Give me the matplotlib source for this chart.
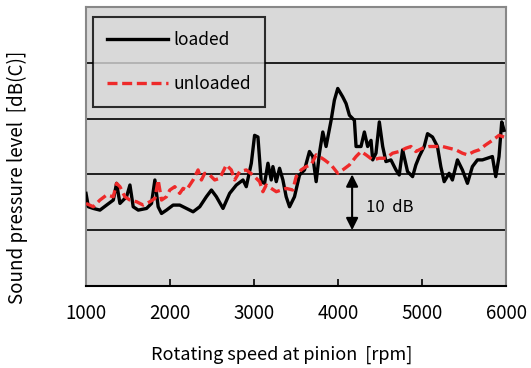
import matplotlib
matplotlib.use("Agg")
import matplotlib.pyplot as plt

# Data
loaded_rpm = [1000, 1028, 1087, 1166, 1245, 1325, 1364, 1404, 1483, 1523, 1562, 1622, 1721, 1780, 1820,
              1859, 1899, 1958, 2037, 2116, 2196, 2275, 2354, 2433, 2493, 2552, 2631, 2710, 2790, 2869,
              2908, 2968, 3007, 3047, 3086, 3126, 3166, 3205, 3225, 3265, 3304, 3344, 3383, 3423, 3482,
              3542, 3601, 3660, 3700, 3740, 3779, 3819, 3858, 3918, 3957, 3997, 4056, 4096, 4136, 4195,
              4215, 4274, 4314, 4353, 4393, 4413, 4452, 4492, 4532, 4571, 4630, 4690, 4729, 4769, 4828,
              4888, 4927, 4967, 5026, 5066, 5125, 5184, 5224, 5264, 5323, 5362, 5422, 5481, 5541, 5600,
              5660, 5719, 5779, 5838, 5878, 5917, 5949, 5977]
loaded_db = [16.6, 14.2, 13.9, 13.6, 14.5, 15.4, 18.4, 14.8, 16.0, 18.1, 14.2, 13.6, 13.9, 14.8, 19.0,
             14.2, 13.0, 13.6, 14.5, 14.5, 13.9, 13.3, 14.2, 16.0, 17.2, 16.0, 13.9, 16.6, 18.1, 19.0,
             17.8, 22.0, 27.0, 26.7, 18.7, 18.4, 22.0, 19.0, 21.4, 18.7, 21.1, 19.0, 16.0, 14.2, 16.0,
             19.9, 20.8, 24.1, 23.2, 18.7, 23.8, 27.6, 25.0, 29.7, 33.3, 35.4, 33.9, 32.7, 30.6, 29.7,
             25.0, 25.0, 27.6, 25.0, 26.1, 22.6, 23.8, 29.4, 25.0, 22.3, 22.6, 20.8, 19.9, 24.4, 20.5,
             19.6, 21.7, 23.2, 25.0, 27.3, 26.7, 25.0, 21.4, 18.7, 20.2, 19.0, 22.6, 20.8, 18.4, 21.4,
             22.6, 22.6, 22.9, 23.2, 19.6, 23.2, 29.4, 27.9]

unloaded_rpm = [1000, 1087, 1166, 1245, 1325, 1364, 1404, 1463, 1523, 1602, 1681, 1760, 1820, 1859, 1899,
                1958, 1998, 2057, 2116, 2156, 2196, 2275, 2334, 2374, 2413, 2473, 2532, 2592, 2671, 2730,
                2770, 2829, 2908, 2987, 3067, 3106, 3146, 3205, 3265, 3324, 3383, 3462, 3502, 3561, 3621,
                3680, 3740, 3779, 3839, 3918, 3997, 4056, 4136, 4215, 4274, 4334, 4413, 4492, 4571, 4650,
                4729, 4809, 4868, 4927, 5006, 5086, 5165, 5244, 5323, 5403, 5481, 5541, 5620, 5680, 5759,
                5838, 5917, 5977]
unloaded_db = [14.8, 14.2, 15.4, 16.3, 16.0, 18.4, 17.8, 16.0, 15.4, 15.1, 14.5, 15.1, 15.7, 19.0, 15.4,
               16.0, 17.2, 17.8, 16.6, 17.5, 17.2, 19.0, 20.8, 19.0, 20.2, 19.9, 19.0, 19.3, 21.7, 20.8,
               19.0, 20.5, 20.8, 19.9, 18.7, 16.9, 18.1, 17.5, 16.9, 17.2, 17.5, 17.2, 19.6, 20.8, 21.4,
               21.7, 23.5, 23.2, 22.6, 21.7, 20.2, 20.8, 21.7, 23.2, 24.1, 23.5, 22.6, 22.9, 22.9, 23.8,
               24.1, 24.7, 25.0, 24.1, 24.7, 25.0, 25.0, 25.0, 24.7, 24.4, 23.8, 23.5, 24.1, 24.4, 25.3,
               26.1, 27.0, 26.7]

x_ticks = [1000, 2000, 3000, 4000, 5000, 6000]
grid_levels = [10, 20, 30, 40]
arrow_rpm = 4168
arrow_from, arrow_to = 20, 10

plt.rcParams['font.family'] = ['Noto Sans CJK JP', 'DejaVu Sans']

W, H = 531, 368
fig = plt.figure(figsize=(W / 100, H / 100), dpi=100)
ax = fig.add_axes([86 / W, (H - 286) / H, (506 - 86) / W, (286 - 7) / H])
ax.set_facecolor('#d9d9d9')

for g in grid_levels:
    ax.axhline(g, color='black', lw=1.2, zorder=1)

l1, = ax.plot(loaded_rpm, loaded_db, color='black', lw=2.4, zorder=3, label='loaded')
l2, = ax.plot(unloaded_rpm, unloaded_db, color='#ee2a2a', lw=2.4, ls=(0, (3, 1.4)), zorder=4, label='unloaded')

ax.set_xlim(1000, 6000)
ax.set_ylim(0, 50)
ax.set_xticks(x_ticks)
ax.set_yticks([])
ax.tick_params(axis='x', direction='in', length=5, width=1.2, labelsize=13.5, pad=12)
for s in ['top', 'right', 'left']:
    ax.spines[s].set_color('#888888')
    ax.spines[s].set_linewidth(1.5)
ax.spines['bottom'].set_color('black')
ax.spines['bottom'].set_linewidth(1.5)

ax.annotate('', xy=(arrow_rpm, arrow_to), xytext=(arrow_rpm, arrow_from),
            arrowprops=dict(arrowstyle='<|-|>', color='black', lw=1.5,
                            mutation_scale=18, shrinkA=0, shrinkB=0), zorder=5)
ax.text(4330, 14.1, '10  dB', fontsize=12, va='center', ha='left')

leg = ax.legend(handles=[l1, l2], loc='upper left', bbox_to_anchor=(7 / 420, 1 - 10 / 279),
                fontsize=12.5, handlelength=3.5, labelspacing=1.5, borderpad=0.8,
                handletextpad=0.35, frameon=True, fancybox=False, borderaxespad=0)
leg.get_frame().set_edgecolor('black')
leg.get_frame().set_linewidth(1.5)
leg.get_frame().set_facecolor('#d9d9d9')

fig.text(17 / W, 1 - 177 / H, 'Sound pressure level  [dB(C)]', rotation=90,
         ha='center', va='center', fontsize=13.5)
fig.text(282 / W, 1 - 355 / H, 'Rotating speed at pinion  [rpm]', ha='center', va='center', fontsize=13)

fig.savefig('out.png', dpi=100, facecolor='white')
